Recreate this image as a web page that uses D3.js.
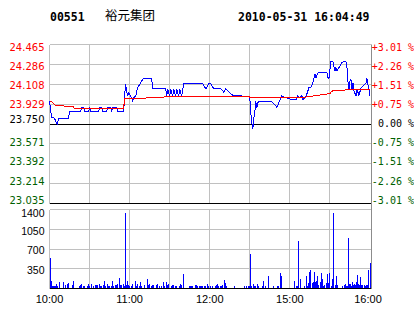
<!DOCTYPE html>
<html lang="zh">
<head>
<meta charset="utf-8">
<title>00551 裕元集团</title>
<script src="https://d3js.org/d3.v7.min.js"></script>
<style>
  body { margin: 0; background: #fff; }
  svg { display: block; }
</style>
</head>
<body>
<svg width="414" height="314"></svg>
<script>
// header
var stockCode = "00551";
var stockName = "裕元集团";
var stamp = "2010-05-31 16:04:49";

// axes (time axis counted in 45-second slots from 10:00, 320 slots)
var prevClose = 23.750;
var priceTicks = [24.465, 24.286, 24.108, 23.929, 23.750, 23.571, 23.392, 23.214, 23.035];
var pctTicks = ["+3.01 %", "+2.26 %", "+1.51 %", "+0.75 %", "0.00 %", "-0.75 %", "-1.51 %", "-2.26 %", "-3.01 %"];
var volTicks = [1400, 1050, 700, 350];
var timeSlots = [0, 80, 160, 240, 320];
var timeLabels = ["10:00", "11:00", "12:00", "15:00", "16:00"];

// last price
var priceSlot = [0,2,5,7,8,9,19,20,31,32,34,35,39,40,41,49,50,52,53,57,58,61,62,63,67,68,74,75,76,77,78,79,82,83,84,86,88,91,93,94,
  102,103,116,117,118,120,121,123,124,126,127,129,130,132,134,153,156,159,161,164,171,172,174,176,177,179,182,184,199,200,
  201,202,203,204,205,206,207,208,209,221,224,227,229,231,232,234,237,241,246,247,248,250,252,253,256,257,259,261,263,265,
  266,267,268,277,278,279,280,281,283,285,286,287,290,292,294,296,297,298,299,300,301,302,303,304,306,307,309,311,313,316,
  317,318,319,320];
var price = [23.954,23.811,23.802,23.757,23.748,23.798,23.802,23.858,23.858,23.900,23.900,23.858,23.858,23.900,23.858,23.858,
  23.900,23.900,23.858,23.858,23.900,23.900,23.858,23.900,23.900,23.858,23.858,23.999,24.111,24.044,23.999,24.030,23.985,
  23.960,23.985,24.000,24.075,24.120,24.150,24.159,
  24.159,24.066,24.066,23.999,24.066,23.999,24.066,23.999,24.066,23.999,24.066,23.999,24.066,23.999,24.111,24.111,24.066,
  24.111,24.111,24.066,24.066,24.062,24.035,24.066,24.060,24.039,24.015,24.005,23.999,23.985,
  23.849,23.759,23.708,23.800,23.861,23.954,23.895,23.940,23.954,23.954,23.933,23.900,23.942,23.985,24.005,23.990,23.985,
  23.972,23.969,23.985,24.005,23.985,24.005,23.969,23.999,24.021,24.075,24.080,24.120,24.201,
  24.165,24.189,24.210,24.210,24.170,24.159,24.240,24.310,24.310,24.225,24.256,24.231,24.270,24.301,24.315,24.310,24.261,
  24.135,24.060,24.135,24.150,24.060,24.120,24.051,23.999,24.060,24.008,24.075,24.089,24.120,
  24.159,24.100,24.060,23.999];

// average price
var avgSlot = [0,1,3,4,5,6,14,15,24,25,74,75,96,97,114,115,199,200,229,231,233,248,254,262,267,274,280,282,284,294,299,320];
var avgPrice = [23.960,23.954,23.944,23.935,23.925,23.918,23.918,23.903,23.903,23.888,23.888,23.981,23.978,23.990,23.990,
  23.999,23.999,23.985,23.985,23.990,23.985,23.985,23.990,23.999,24.008,24.015,24.024,24.045,24.051,24.054,24.060,24.060];

// volume
var volSlot = [1,2,3,4,5,6,7,8,10,14,16,18,19,23,24,30,31,32,34,35,38,39,40,42,44,46,47,48,50,51,52,54,55,56,58,59,60,62,63,64,
  66,67,68,70,71,72,74,75,76,77,78,79,80,82,83,86,87,88,90,91,92,95,98,99,100,102,103,104,107,108,110,112,114,115,117,118,
  119,122,123,124,126,127,130,131,132,134,140,141,142,143,146,147,148,150,151,152,153,155,156,158,159,161,163,166,167,168,
  169,171,172,173,175,176,177,185,195,197,199,200,201,202,204,205,206,208,209,213,214,216,219,224,228,229,231,232,245,247,
  248,249,251,255,257,258,259,260,261,263,264,265,266,267,268,269,271,272,273,274,275,277,278,279,280,282,283,284,286,287,
  288,293,295,296,297,298,299,300,301,302,303,304,305,306,307,308,309,310,311,312,313,315,316,317,318,319,320];
var volume = [540,125,40,30,40,40,70,35,115,105,55,70,90,55,125,35,55,70,35,35,35,70,35,70,35,55,55,55,70,35,35,55,125,35,70,35,35,35,125,35,
  55,55,70,180,55,55,70,35,1335,55,125,55,35,35,70,125,35,70,35,105,35,55,160,55,70,35,55,55,55,70,35,35,105,35,105,55,
  70,35,55,55,35,35,35,70,55,250,35,35,35,35,55,55,35,35,35,35,35,35,35,70,35,35,35,35,55,70,
  35,35,35,55,140,90,35,35,35,35,35,35,605,35,70,35,35,70,35,35,125,35,215,35,35,35,265,215,125,35,
  35,835,160,35,215,35,90,285,320,90,105,285,105,125,215,55,105,265,160,35,55,90,250,90,265,35,160,1335,55,215,
  55,35,55,70,35,35,880,70,70,35,105,55,70,55,105,230,70,55,195,55,55,55,35,55,55,320,445];

var svg = d3.select("svg");

var x = d3.scaleLinear().domain([0, 320]).range([49.5, 370]);
var yPrice = d3.scaleLinear().domain([23.035, 24.465]).range([203.5, 44.5]);
var yVol = d3.scaleLinear().domain([0, 1400]).range([288.5, 209.5]);

// snap to pixel centres so 1px lines stay sharp
function colX(v) { return Math.floor(v) + 0.5; }
function rowY(v) { return Math.round(v - 0.5) + 0.5; }

var left = colX(x(0)), right = colX(x(320)) + 1;
var red = "#ff0000", green = "#005f00", grid = "#c0c0c0";

function tone(i, mid) { return i < mid ? red : (i == mid ? "#000" : green); }

/* grid */
var g = svg.append("g").attr("shape-rendering", "crispEdges");

g.selectAll(".vgrid").data(d3.range(0, 320, 40)).enter().append("line")
  .attr("x1", function(d) { return colX(x(d)); })
  .attr("x2", function(d) { return colX(x(d)); })
  .attr("y1", yPrice(24.465)).attr("y2", yPrice(23.035))
  .attr("stroke", grid);

g.selectAll(".vgrid2").data(d3.range(0, 320, 40)).enter().append("line")
  .attr("x1", function(d) { return colX(x(d)); })
  .attr("x2", function(d) { return colX(x(d)); })
  .attr("y1", yVol(1400)).attr("y2", yVol(0))
  .attr("stroke", grid);

g.selectAll(".hgrid").data(priceTicks).enter().append("line")
  .attr("x1", left).attr("x2", right)
  .attr("y1", function(d) { return rowY(yPrice(d)); })
  .attr("y2", function(d) { return rowY(yPrice(d)); })
  .attr("stroke", function(d, i) { return (d == prevClose || i == priceTicks.length - 1) ? "#000" : grid; });

g.selectAll(".vgridh").data(volTicks.concat([0])).enter().append("line")
  .attr("x1", left).attr("x2", right)
  .attr("y1", function(d) { return rowY(yVol(d)); })
  .attr("y2", function(d) { return rowY(yVol(d)); })
  .attr("stroke", function(d) { return d == 0 ? "#000" : grid; });

/* volume bars */
g.selectAll(".bar").data(d3.zip(volSlot, volume)).enter().append("rect")
  .attr("x", function(d) { return Math.floor(x(d[0])); })
  .attr("y", function(d) { return Math.round(yVol(d[1]) - 0.5); })
  .attr("width", 1)
  .attr("height", function(d) { return 288 - Math.round(yVol(d[1]) - 0.5); })
  .attr("fill", "#0000ff");

/* price and average lines */
var line = d3.line()
  .x(function(d) { return x(d[0]); })
  .y(function(d) { return yPrice(d[1]); });

g.append("path").datum(d3.zip(priceSlot, price))
  .attr("d", line).attr("fill", "none").attr("stroke", "#0000ff").attr("stroke-width", 1);

g.append("path").datum(d3.zip(avgSlot, avgPrice))
  .attr("d", line).attr("fill", "none").attr("stroke", red).attr("stroke-width", 1);

// right frame
g.append("line")
  .attr("x1", right).attr("x2", right)
  .attr("y1", rowY(yPrice(24.465))).attr("y2", rowY(yVol(0)) + 0.5)
  .attr("stroke", "#8c8c8c");

/* labels */
var labelY = d3.scaleLinear().domain([0, priceTicks.length - 1]).range([47.5, 200]);

svg.selectAll(".pl").data(priceTicks).enter().append("text")
  .attr("x", 44.5)
  .attr("y", function(d, i) { return labelY(i) - (d == prevClose ? 4 : 0); })
  .attr("dy", "0.36em")
  .attr("text-anchor", "end")
  .style("font", "10px 'DejaVu Sans'")
  .attr("fill", function(d, i) { return tone(i, 4); })
  .text(function(d) { return d.toFixed(3); });

svg.selectAll(".rl").data(pctTicks).enter().append("text")
  .attr("x", 414)
  .attr("y", function(d, i) { return labelY(i); })
  .attr("dy", "0.36em")
  .attr("text-anchor", "end")
  .style("font", "10px 'DejaVu Sans Mono'")
  .attr("fill", function(d, i) { return tone(i, 4); })
  .text(function(d) { return d; });

svg.selectAll(".vl").data(volTicks).enter().append("text")
  .attr("x", 44.5)
  .attr("y", function(d) { return Math.max(yVol(d) + 1.5, 213); })
  .attr("dy", "0.36em")
  .attr("text-anchor", "end")
  .style("font", "10.5px 'Liberation Sans'")
  .attr("fill", "#000")
  .text(function(d) { return d; });

svg.selectAll(".tl").data(timeSlots).enter().append("text")
  .attr("x", function(d, i) { return Math.min(x(d), 368); })
  .attr("y", 303)
  .attr("text-anchor", "middle")
  .style("font", "11px 'Liberation Sans'")
  .attr("fill", "#000")
  .text(function(d, i) { return timeLabels[i]; });

/* header */
svg.append("text").attr("x", 50).attr("y", 21)
  .style("font", "bold 11.5px 'DejaVu Sans Mono'").text(stockCode);
svg.append("text").attr("x", 105).attr("y", 20)
  .style("font", "12.5px 'Noto Sans CJK SC'").text(stockName);
svg.append("text").attr("x", 238).attr("y", 21)
  .style("font", "bold 11.5px 'DejaVu Sans Mono'").text(stamp);
</script>
</body>
</html>
